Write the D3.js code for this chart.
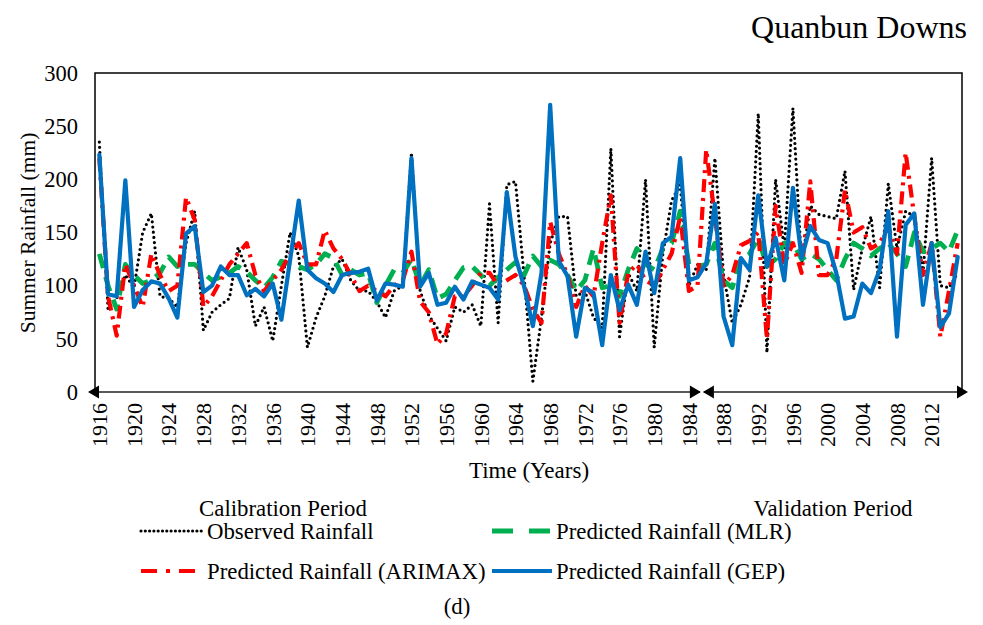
<!DOCTYPE html>
<html><head><meta charset="utf-8">
<script src="https://cdn.jsdelivr.net/npm/d3@7"></script>
<style>
body{margin:0;background:#fff}
svg{display:block}
svg text{font-family:'Liberation Serif','Times New Roman',Tinos,'DejaVu Serif',serif !important;fill:#000}
</style>
</head><body>
<svg id="c" width="983" height="625"></svg>
<script>
const firstYear = 1916, lastYear = 2015;
const years = d3.range(firstYear, lastYear + 1);
const observed = [235,78,88,110,98,150,168,90,88,80,140,170,58,75,82,88,136,115,62,80,
  48,100,150,128,42,70,90,118,125,105,95,95,85,70,95,100,225,95,72,60,
  48,80,75,82,62,177,65,195,198,108,10,70,140,165,165,90,95,70,60,229,
  52,112,95,200,42,130,180,195,100,120,115,220,110,65,82,108,262,37,200,135,
  267,120,175,167,165,163,208,96,135,165,98,196,135,170,165,112,220,100,98,112];
const mlr = [130,100,78,120,110,102,105,112,127,118,120,120,112,105,108,112,118,113,105,98,
  108,123,120,118,115,120,130,126,110,115,110,112,84,100,115,112,125,100,115,88,
  92,105,117,118,110,100,108,115,122,110,128,118,124,120,110,95,105,135,98,100,
  90,115,135,120,115,135,140,170,120,118,120,140,105,98,125,130,145,118,125,140,
  140,125,130,125,115,105,125,140,135,128,135,140,130,118,150,132,135,140,132,152];
const arimax = [220,90,53,120,100,80,130,110,95,100,183,162,80,90,105,120,130,140,110,95,
  105,115,130,140,120,120,152,135,125,110,95,100,95,90,100,105,132,85,75,45,
  55,90,90,100,112,112,100,105,110,100,78,65,160,130,110,80,100,90,140,185,
  65,112,120,105,100,115,130,165,95,100,228,165,100,110,138,142,150,50,175,120,
  140,112,198,110,110,125,190,150,155,135,140,155,130,225,165,110,140,52,95,140];
const gep = [223,92,90,199,80,96,104,102,88,70,149,156,94,100,118,110,110,91,97,90,
  102,68,124,180,115,107,102,94,110,112,113,116,86,102,101,99,220,99,112,82,
  84,99,87,104,101,98,87,188,127,99,62,112,270,123,109,52,98,93,44,110,
  77,101,82,132,93,140,146,220,105,108,121,177,71,44,126,115,185,118,145,105,
  192,126,156,143,140,112,69,71,102,93,115,170,52,157,168,82,140,61,74,127];
const xTickLabels = ["1916","1920","1924","1928","1932","1936","1940","1944","1948","1952","1956","1960","1964","1968","1972","1976","1980","1984","1988","1992","1996","2000","2004","2008","2012"];
const yTicks = [0,50,100,150,200,250,300];
const calibrationEnd = 1985;

const FONT = "'Liberation Serif','Times New Roman',Tinos,'DejaVu Serif',serif";
const svg = d3.select("#c").attr("font-family", FONT);
const L = 95, R = 962, T = 73, B = 392;

const x = d3.scalePoint().domain(years).range([L, R]).padding(0.5);
const y = d3.scaleLinear().domain([0, 300]).range([B, T]);
const step = x.step();

// plot frame (top, left, right)
svg.append("path")
  .attr("d", `M${L},${B} L${L},${T} L${R},${T} L${R},${B}`)
  .attr("fill", "none").attr("stroke", "#000").attr("stroke-width", 1.5);

// y axis
const yAxis = d3.axisLeft(y).tickValues(yTicks).tickSize(0).tickPadding(17);
const gy = svg.append("g").attr("transform", `translate(${L},0)`).call(yAxis);
gy.attr("font-family", FONT).attr("font-size", 22.5);
gy.select(".domain").remove();
gy.selectAll("text").attr("fill", "#000");

// x axis labels
const xAxis = d3.axisBottom(x).tickValues(xTickLabels.map(Number)).tickSize(0).tickFormat(d3.format("d"));
const gx = svg.append("g").attr("transform", `translate(0,${B})`).call(xAxis);
gx.attr("font-family", FONT).attr("font-size", 22);
gx.select(".domain").remove();
gx.selectAll("text")
  .attr("fill", "#000")
  .attr("text-anchor", "end")
  .attr("transform", "rotate(-90)")
  .attr("x", -11).attr("y", 0).attr("dy", "0.33em");

// bottom axis with period arrows
const splitX = x(calibrationEnd) + step / 2;
const axisCol = "#222";
function arrowHead(tipX, dir) {
  const len = 11, half = 6.5;
  svg.append("path")
    .attr("d", `M${tipX},${B} L${tipX - dir * len},${B - half} L${tipX - dir * len},${B + half} Z`)
    .attr("fill", "#000");
}
svg.append("line").attr("x1", L - 4).attr("x2", splitX - 2).attr("y1", B).attr("y2", B)
  .attr("stroke", axisCol).attr("stroke-width", 1.3);
svg.append("line").attr("x1", splitX + 2).attr("x2", R + 4).attr("y1", B).attr("y2", B)
  .attr("stroke", axisCol).attr("stroke-width", 1.3);
arrowHead(L - 7, -1);
arrowHead(splitX - 1, 1);
arrowHead(splitX + 1, -1);
arrowHead(R + 6, 1);

// series
const line = d3.line().x((d, i) => x(years[i])).y(d => y(d));
const series = [
  {name: "Observed Rainfall", values: observed, color: "#000", width: 3.2, dash: "0,5.2", cap: "round", ldash: "0,4.3"},
  {name: "Predicted Rainfall (MLR)", values: mlr, color: "#00b050", width: 4.8, dash: "15,9", cap: "butt", ldash: "21,16"},
  {name: "Predicted Rainfall (ARIMAX)", values: arimax, color: "#ff0000", width: 4.2, dash: "13,6,3,6", cap: "butt", ldash: "16,9,4,9"},
  {name: "Predicted Rainfall (GEP)", values: gep, color: "#0070c0", width: 4.2, dash: null, cap: "round", ldash: null}
];
series.forEach(s => {
  svg.append("path").datum(s.values)
    .attr("d", line)
    .attr("fill", "none")
    .attr("stroke", s.color)
    .attr("stroke-width", s.width)
    .attr("stroke-dasharray", s.dash)
    .attr("stroke-linecap", s.cap)
    .attr("stroke-linejoin", "round");
});

// titles
svg.append("text").attr("x", 967).attr("y", 38).attr("text-anchor", "end")
  .attr("font-size", 32).text("Quanbun Downs");
svg.append("text").attr("transform", "translate(35,233) rotate(-90)")
  .attr("text-anchor", "middle").attr("font-size", 21.5).text("Summer Rainfall (mm)");
svg.append("text").attr("x", 529).attr("y", 478).attr("text-anchor", "middle")
  .attr("font-size", 23).text("Time (Years)");
svg.append("text").attr("x", 283).attr("y", 516).attr("text-anchor", "middle")
  .attr("font-size", 22.8).text("Calibration Period");
svg.append("text").attr("x", 833).attr("y", 516).attr("text-anchor", "middle")
  .attr("font-size", 22.8).text("Validation Period");
svg.append("text").attr("x", 457).attr("y", 614).attr("text-anchor", "middle")
  .attr("font-size", 22.8).text("(d)");

// legend
const legendPos = [
  {lx: 141, ly: 531, tx: 207}, {lx: 492, ly: 531, tx: 556},
  {lx: 141, ly: 571, tx: 207}, {lx: 492, ly: 571, tx: 556}
];
series.forEach((s, i) => {
  const p = legendPos[i];
  svg.append("line").attr("x1", p.lx).attr("x2", p.tx - 4).attr("y1", p.ly).attr("y2", p.ly)
    .attr("stroke", s.color).attr("stroke-width", s.width)
    .attr("stroke-dasharray", s.ldash)
    .attr("stroke-linecap", s.ldash && s.cap === "round" ? "round" : "butt");
  svg.append("text").attr("x", p.tx).attr("y", p.ly + 8)
    .attr("font-size", 22.8).text(s.name);
});
</script>
</body></html>
